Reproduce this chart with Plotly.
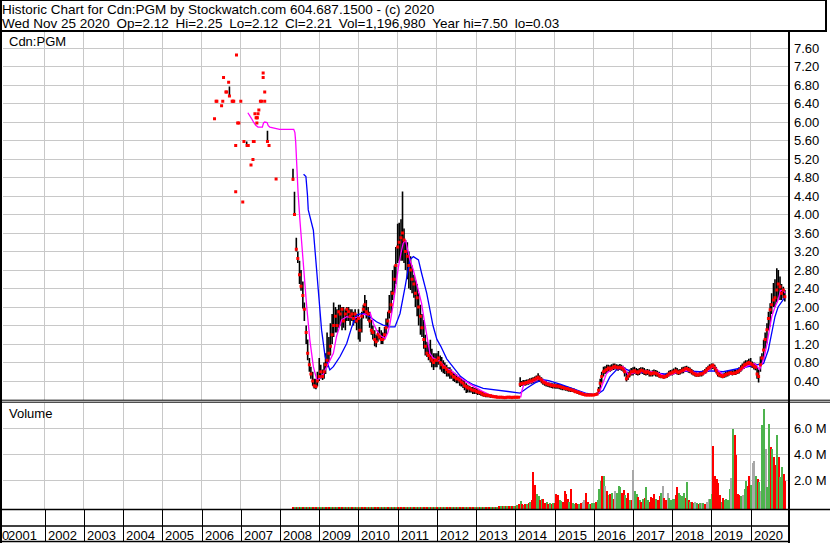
import pandas as pd
import plotly.graph_objects as go

W, H = 830, 543

# ---------------- text ----------------
TITLE_LINE_1 = "Historic Chart for Cdn:PGM by Stockwatch.com 604.687.1500 - (c) 2020"
TITLE_LINE_2 = "Wed Nov 25 2020  Op=2.12  Hi=2.25  Lo=2.12  Cl=2.21  Vol=1,196,980  Year hi=7.50  lo=0.03"
SYMBOL_LABEL = "Cdn:PGM"
VOLUME_LABEL = "Volume"

YEARS = [2001, 2002, 2003, 2004, 2005, 2006, 2007, 2008, 2009, 2010,
         2011, 2012, 2013, 2014, 2015, 2016, 2017, 2018, 2019, 2020]
PRICE_TICKS = [0.40, 0.80, 1.20, 1.60, 2.00, 2.40, 2.80, 3.20, 3.60, 4.00,
               4.40, 4.80, 5.20, 5.60, 6.00, 6.40, 6.80, 7.20, 7.60]
VOLUME_TICKS = [2.0, 4.0, 6.0]          # millions

# ---------------- sparse early trades (decimal year, close) ----------------
EARLY_X = [2006.33, 2006.37, 2006.39, 2006.51, 2006.54, 2006.56, 2006.62, 2006.64,
           2006.69, 2006.71, 2006.78, 2006.80, 2006.82, 2006.87, 2006.87, 2006.89,
           2006.92, 2006.95, 2007.00, 2007.05, 2007.08, 2007.16, 2007.19, 2007.26,
           2007.31, 2007.32, 2007.34, 2007.36, 2007.39, 2007.41, 2007.41, 2007.42,
           2007.44, 2007.46, 2007.50, 2007.53, 2007.57, 2007.57, 2007.61, 2007.61,
           2007.68, 2007.72, 2007.90]
EARLY_CLOSE = [6.07, 6.45, 6.45, 6.35, 6.45, 6.96, 6.65, 6.65,
               6.86, 6.56, 6.45, 6.45, 6.45, 5.49, 4.49, 7.45,
               5.98, 5.98, 6.45, 4.27, 5.58, 5.49, 5.49, 5.07,
               5.19, 5.58, 5.58, 6.18, 6.09, 5.98, 6.09, 6.09,
               6.18, 6.26, 6.45, 6.45, 7.06, 6.96, 6.65, 6.45,
               5.58, 5.49, 4.77]
EARLY_BAR_X = [2006.71, 2007.15, 2007.68]
EARLY_BAR_HIGH = [6.77, 5.58, 5.81]
EARLY_BAR_LOW = [6.56, 5.49, 5.58]

# ---------------- semi-monthly periods (1st & 15th), May 2008 - Nov 2020 ----------------
PERIOD_START = "2008-05-01"
PERIOD_END = "2020-11-15"

HIGH = [
    # 2008 (May-Dec)
    4.99, 4.49, 3.50, 3.20, 3.00, 2.80, 2.55, 2.10, 1.60, 1.30, 0.90, 0.71, 0.60, 0.45, 0.45, 0.60,
    # 2009
    0.90, 0.75, 0.65, 0.80, 1.00, 1.45, 1.35, 1.65, 1.85, 2.10, 2.00, 1.95, 2.05, 2.05, 2.00, 2.00, 1.95, 2.00, 2.00, 1.95, 1.95, 1.90, 1.95, 1.85,
    # 2010
    1.95, 1.75, 1.90, 2.05, 2.26, 2.15, 2.00, 1.90, 1.72, 1.60, 1.50, 1.40, 1.50, 1.57, 1.50, 1.45, 1.57, 1.75, 1.90, 2.26, 2.35, 2.80, 2.90, 3.30,
    # 2011
    3.80, 3.82, 3.90, 4.50, 3.70, 3.45, 3.40, 3.20, 3.10, 2.90, 2.70, 2.58, 2.50, 2.30, 2.05, 1.85, 1.72, 1.40, 1.25, 1.20, 1.29, 1.10, 1.00, 1.00,
    # 2012
    1.00, 1.05, 0.95, 0.92, 0.85, 0.80, 0.75, 0.70, 0.70, 0.65, 0.60, 0.58, 0.55, 0.50, 0.50, 0.45, 0.42, 0.40, 0.35, 0.32, 0.30, 0.27, 0.27, 0.25,
    # 2013
    0.25, 0.22, 0.20, 0.18, 0.16, 0.15, 0.13, 0.12, 0.11, 0.10, 0.10, 0.09, 0.08, 0.08, 0.07, 0.07, 0.06, 0.06, 0.06, 0.06, 0.06, 0.07, 0.06, 0.07,
    # 2014
    0.07, 0.07, 0.07, 0.48, 0.40, 0.42, 0.42, 0.43, 0.44, 0.46, 0.47, 0.48, 0.50, 0.52, 0.57, 0.52, 0.48, 0.45, 0.42, 0.40, 0.38, 0.37, 0.36, 0.35,
    # 2015
    0.35, 0.34, 0.34, 0.33, 0.32, 0.31, 0.30, 0.29, 0.28, 0.27, 0.26, 0.25, 0.24, 0.22, 0.20, 0.18, 0.17, 0.15, 0.14, 0.13, 0.12, 0.12, 0.12, 0.12,
    # 2016
    0.12, 0.13, 0.15, 0.27, 0.45, 0.60, 0.71, 0.72, 0.75, 0.75, 0.74, 0.76, 0.78, 0.78, 0.76, 0.75, 0.77, 0.75, 0.73, 0.70, 0.60, 0.60, 0.65, 0.68,
    # 2017
    0.70, 0.71, 0.68, 0.66, 0.68, 0.70, 0.70, 0.68, 0.65, 0.66, 0.65, 0.62, 0.63, 0.65, 0.64, 0.62, 0.60, 0.57, 0.56, 0.55, 0.56, 0.58, 0.62, 0.64,
    # 2018
    0.65, 0.67, 0.70, 0.68, 0.65, 0.66, 0.70, 0.71, 0.72, 0.73, 0.71, 0.69, 0.66, 0.63, 0.60, 0.59, 0.58, 0.60, 0.61, 0.63, 0.66, 0.70, 0.73, 0.76,
    # 2019
    0.78, 0.78, 0.75, 0.70, 0.63, 0.60, 0.58, 0.56, 0.58, 0.60, 0.62, 0.64, 0.64, 0.63, 0.64, 0.64, 0.66, 0.70, 0.74, 0.78, 0.82, 0.85, 0.85, 0.88,
    # 2020 (Jan - mid Nov)
    0.90, 0.82, 0.80, 0.78, 0.71, 0.65, 0.93, 1.00, 1.29, 1.45, 1.65, 1.90, 2.08, 2.30, 2.52, 2.60, 2.84, 2.80, 2.66, 2.50, 2.44, 2.37,
]
LOW = [
    # 2008
    4.73, 3.99, 3.20, 2.95, 2.50, 2.35, 1.97, 1.70, 1.20, 0.85, 0.60, 0.45, 0.30, 0.24, 0.22, 0.28,
    # 2009
    0.40, 0.45, 0.42, 0.45, 0.55, 0.70, 0.80, 0.95, 1.20, 1.35, 1.45, 1.45, 1.55, 1.60, 1.50, 1.55, 1.50, 1.70, 1.70, 1.60, 1.70, 1.60, 1.65, 1.50,
    # 2010
    1.30, 1.25, 1.45, 1.75, 1.85, 1.75, 1.70, 1.55, 1.40, 1.30, 1.15, 1.13, 1.25, 1.30, 1.20, 1.20, 1.30, 1.40, 1.55, 1.75, 1.87, 2.15, 2.30, 2.50,
    # 2011
    2.95, 3.00, 3.00, 3.00, 2.95, 2.80, 2.60, 2.40, 2.37, 2.30, 2.20, 2.00, 1.80, 1.60, 1.40, 1.35, 1.10, 0.95, 0.92, 0.85, 0.80, 0.70, 0.64, 0.70,
    # 2012
    0.70, 0.75, 0.65, 0.60, 0.57, 0.55, 0.50, 0.50, 0.45, 0.45, 0.40, 0.38, 0.35, 0.35, 0.30, 0.28, 0.25, 0.20, 0.14, 0.15, 0.15, 0.15, 0.12, 0.12,
    # 2013
    0.12, 0.10, 0.10, 0.08, 0.07, 0.06, 0.05, 0.05, 0.05, 0.04, 0.04, 0.03, 0.03, 0.03, 0.03, 0.03, 0.03, 0.03, 0.03, 0.03, 0.03, 0.03, 0.03, 0.03,
    # 2014
    0.03, 0.03, 0.03, 0.27, 0.29, 0.30, 0.30, 0.31, 0.32, 0.33, 0.34, 0.35, 0.37, 0.39, 0.40, 0.38, 0.35, 0.32, 0.30, 0.28, 0.27, 0.26, 0.25, 0.24,
    # 2015
    0.24, 0.23, 0.23, 0.22, 0.21, 0.20, 0.20, 0.19, 0.18, 0.17, 0.16, 0.16, 0.15, 0.14, 0.12, 0.11, 0.10, 0.09, 0.08, 0.08, 0.08, 0.08, 0.08, 0.08,
    # 2016
    0.08, 0.08, 0.09, 0.12, 0.20, 0.35, 0.50, 0.55, 0.57, 0.60, 0.60, 0.62, 0.64, 0.65, 0.64, 0.62, 0.64, 0.62, 0.60, 0.50, 0.39, 0.42, 0.48, 0.52,
    # 2017
    0.52, 0.55, 0.53, 0.52, 0.53, 0.56, 0.55, 0.53, 0.52, 0.53, 0.50, 0.50, 0.50, 0.52, 0.50, 0.49, 0.47, 0.46, 0.46, 0.45, 0.46, 0.47, 0.50, 0.52,
    # 2018
    0.52, 0.54, 0.55, 0.54, 0.53, 0.54, 0.56, 0.57, 0.60, 0.60, 0.58, 0.57, 0.54, 0.52, 0.50, 0.49, 0.49, 0.50, 0.50, 0.52, 0.55, 0.57, 0.60, 0.63,
    # 2019
    0.65, 0.66, 0.60, 0.56, 0.50, 0.48, 0.47, 0.46, 0.47, 0.48, 0.50, 0.52, 0.53, 0.52, 0.53, 0.53, 0.55, 0.56, 0.60, 0.63, 0.66, 0.70, 0.72, 0.72,
    # 2020
    0.70, 0.68, 0.65, 0.63, 0.45, 0.37, 0.60, 0.75, 0.85, 1.10, 1.21, 1.50, 1.58, 1.85, 2.00, 2.00, 2.10, 2.20, 2.15, 2.15, 2.19, 2.12,
]
CLOSE = [
    # 2008
    4.76, 4.00, 3.25, 3.05, 2.70, 2.45, 2.25, 1.95, 1.45, 1.00, 0.75, 0.55, 0.40, 0.30, 0.28, 0.40,
    # 2009
    0.50, 0.60, 0.50, 0.60, 0.75, 0.85, 1.00, 1.15, 1.40, 1.60, 1.80, 1.60, 1.90, 1.85, 1.95, 1.70, 1.85, 1.95, 1.90, 1.80, 1.85, 1.75, 1.85, 1.70,
    # 2010
    1.75, 1.50, 1.80, 1.95, 2.05, 1.90, 1.85, 1.70, 1.50, 1.45, 1.30, 1.25, 1.40, 1.35, 1.30, 1.30, 1.40, 1.55, 1.70, 1.90, 2.05, 2.30, 2.60, 2.90,
    # 2011
    3.30, 3.40, 3.50, 3.60, 3.45, 3.20, 3.10, 2.90, 2.80, 2.60, 2.50, 2.30, 2.20, 2.00, 1.80, 1.55, 1.30, 1.15, 1.00, 0.95, 0.90, 0.85, 0.80, 0.85,
    # 2012
    0.85, 0.90, 0.80, 0.75, 0.70, 0.70, 0.65, 0.60, 0.60, 0.55, 0.50, 0.48, 0.45, 0.45, 0.42, 0.38, 0.35, 0.30, 0.28, 0.25, 0.25, 0.22, 0.20, 0.20,
    # 2013
    0.18, 0.16, 0.15, 0.14, 0.12, 0.10, 0.10, 0.09, 0.08, 0.08, 0.07, 0.06, 0.06, 0.05, 0.05, 0.05, 0.05, 0.04, 0.04, 0.05, 0.05, 0.05, 0.04, 0.05,
    # 2014
    0.05, 0.05, 0.05, 0.33, 0.34, 0.35, 0.35, 0.37, 0.38, 0.40, 0.40, 0.42, 0.44, 0.46, 0.48, 0.45, 0.42, 0.38, 0.36, 0.34, 0.33, 0.32, 0.31, 0.30,
    # 2015
    0.30, 0.29, 0.29, 0.28, 0.27, 0.26, 0.25, 0.24, 0.23, 0.22, 0.21, 0.20, 0.19, 0.17, 0.16, 0.15, 0.13, 0.12, 0.11, 0.10, 0.10, 0.10, 0.10, 0.10,
    # 2016
    0.10, 0.11, 0.12, 0.20, 0.35, 0.50, 0.60, 0.62, 0.65, 0.68, 0.66, 0.68, 0.70, 0.72, 0.70, 0.68, 0.70, 0.68, 0.66, 0.60, 0.45, 0.50, 0.55, 0.60,
    # 2017
    0.60, 0.62, 0.60, 0.58, 0.60, 0.63, 0.62, 0.60, 0.58, 0.60, 0.58, 0.55, 0.56, 0.58, 0.57, 0.55, 0.52, 0.50, 0.50, 0.48, 0.50, 0.52, 0.55, 0.57,
    # 2018
    0.58, 0.60, 0.62, 0.60, 0.58, 0.60, 0.62, 0.64, 0.66, 0.67, 0.65, 0.63, 0.60, 0.57, 0.55, 0.53, 0.53, 0.55, 0.55, 0.57, 0.60, 0.63, 0.67, 0.70,
    # 2019
    0.72, 0.74, 0.68, 0.62, 0.56, 0.53, 0.52, 0.50, 0.52, 0.54, 0.55, 0.57, 0.58, 0.56, 0.57, 0.58, 0.60, 0.62, 0.66, 0.70, 0.74, 0.76, 0.78, 0.80,
    # 2020
    0.78, 0.75, 0.72, 0.70, 0.55, 0.50, 0.75, 0.90, 1.07, 1.30, 1.51, 1.75, 1.94, 2.05, 2.15, 2.20, 2.37, 2.50, 2.44, 2.30, 2.37, 2.22,
]
VOLUME = [  # millions of shares
    # 2008
    0.00, 0.00, 0.00, 0.00, 0.00, 0.00, 0.00, 0.00, 0.00, 0.00, 0.00, 0.00, 0.00, 0.00, 0.00, 0.00,
    # 2009
    0.00, 0.00, 0.00, 0.00, 0.00, 0.00, 0.00, 0.00, 0.00, 0.00, 0.00, 0.00, 0.00, 0.00, 0.00, 0.00, 0.00, 0.00, 0.00, 0.00, 0.00, 0.00, 0.00, 0.00,
    # 2010
    0.00, 0.00, 0.00, 0.00, 0.00, 0.00, 0.00, 0.00, 0.00, 0.00, 0.00, 0.00, 0.00, 0.00, 0.00, 0.00, 0.00, 0.00, 0.00, 0.00, 0.00, 0.00, 0.00, 0.00,
    # 2011
    0.00, 0.00, 0.00, 0.00, 0.00, 0.00, 0.00, 0.00, 0.00, 0.00, 0.00, 0.00, 0.00, 0.00, 0.00, 0.00, 0.00, 0.00, 0.00, 0.00, 0.00, 0.00, 0.00, 0.00,
    # 2012
    0.00, 0.00, 0.00, 0.00, 0.00, 0.00, 0.00, 0.00, 0.00, 0.00, 0.00, 0.00, 0.00, 0.00, 0.00, 0.00, 0.00, 0.00, 0.00, 0.00, 0.00, 0.00, 0.00, 0.00,
    # 2013
    0.00, 0.00, 0.00, 0.00, 0.00, 0.00, 0.00, 0.00, 0.00, 0.00, 0.00, 0.00, 0.00, 0.00, 0.03, 0.05, 0.04, 0.06, 0.05, 0.04, 0.06, 0.05, 0.07, 0.05,
    # 2014
    0.10, 0.15, 0.20, 0.45, 0.20, 0.15, 0.20, 0.25, 0.30, 0.40, 0.50, 2.70, 1.70, 1.00, 0.80, 0.50, 0.60, 0.60, 0.30, 0.40, 0.25, 0.30, 0.20, 0.30,
    # 2015
    0.30, 0.95, 0.90, 0.50, 0.45, 0.40, 1.20, 1.00, 0.60, 0.40, 1.40, 0.30, 0.25, 0.30, 0.20, 0.25, 0.30, 0.35, 0.55, 1.10, 0.40, 0.25, 0.20, 0.30,
    # 2016
    0.30, 0.40, 0.50, 1.40, 1.95, 2.40, 2.35, 1.60, 1.20, 0.90, 1.00, 1.10, 0.60, 1.20, 1.10, 1.60, 1.50, 1.10, 1.30, 0.90, 0.70, 1.10, 0.50, 0.50,
    # 2017
    2.80, 1.20, 1.00, 0.75, 0.50, 0.40, 0.60, 0.70, 1.50, 0.50, 0.40, 0.75, 0.70, 1.00, 0.60, 0.50, 0.85, 1.10, 1.60, 0.70, 0.50, 1.05, 0.70, 0.50,
    # 2018
    0.60, 0.60, 0.90, 1.55, 1.05, 0.90, 0.80, 1.10, 0.70, 1.90, 0.50, 0.40, 0.35, 0.30, 0.35, 0.30, 0.25, 0.30, 0.30, 0.30, 0.25, 0.35, 0.60, 0.60,
    # 2019
    1.00, 4.70, 2.40, 2.15, 1.80, 0.90, 0.40, 0.70, 0.50, 0.60, 0.50, 1.40, 2.20, 6.00, 5.50, 3.95, 1.00, 0.90, 0.80, 0.90, 1.40, 1.95, 1.60, 2.40,
    # 2020
    1.70, 3.40, 3.50, 2.40, 2.15, 1.90, 1.20, 6.30, 7.50, 4.45, 1.50, 6.40, 4.60, 4.45, 3.80, 3.20, 5.55, 3.80, 2.30, 3.05, 2.55, 1.95,
]
# u = up (green), d = down (red), f = unchanged (grey); one letter per period
VOLUME_TREND = (
    "dudududududududu"                              # 2008
    + "dudududududududududududu"                    # 2009
    + "dudududududududududududu"                    # 2010
    + "dudududududududududududu"                    # 2011
    + "dudududududududududududu"                    # 2012
    + "dudududududududududududu"                    # 2013
    + "dudududu" + "duddduud" + "uddududu"          # 2014
    + "ddduuddd" + "duduuddu" + "dffddudu"          # 2015
    + "uduuuduf" + "dududfuu" + "udduddud"          # 2016
    + "fuududud" + "uuddddud" + "dufddfuu"          # 2017
    + "uudduuuu" + "dududufu" + "dufudffu"          # 2018
    + "udddddud" + "uuuufudd" + "ddufuudd"          # 2019
    + "uffudufu" + "ufuududd" + "uduudd"            # 2020
)

# ---------------- moving averages ----------------
MA_FAST_X = [2007.18, 2007.21, 2007.27, 2007.33, 2007.38, 2007.44, 2007.55, 2007.58, 2007.61, 2007.67,
             2007.70, 2007.74, 2007.84, 2007.99, 2008.35, 2008.38, 2008.40, 2008.42, 2008.44, 2008.46,
             2008.51, 2008.59, 2008.68, 2008.76, 2008.85, 2008.94, 2009.02, 2009.10, 2009.19, 2009.28,
             2009.36, 2009.44, 2009.50, 2009.57, 2009.70, 2009.87, 2010.04, 2010.15, 2010.25, 2010.30,
             2010.38, 2010.46, 2010.55, 2010.68, 2010.75, 2010.80, 2010.89, 2010.95, 2011.02, 2011.08,
             2011.14, 2011.20, 2011.25, 2011.31, 2011.40, 2011.49, 2011.61, 2011.68, 2011.74, 2011.82,
             2011.90, 2012.00, 2012.08, 2012.25, 2012.33, 2012.59, 2012.75, 2012.93, 2013.15, 2013.35,
             2013.55, 2013.78, 2013.97, 2014.14, 2014.17, 2014.22, 2014.37, 2014.50, 2014.63, 2014.80,
             2014.95, 2015.14, 2015.48, 2015.82, 2016.07, 2016.14, 2016.20, 2016.27, 2016.33, 2016.50,
             2016.75, 2016.82, 2016.88, 2017.00, 2017.34, 2017.60, 2017.86, 2018.10, 2018.37, 2018.62,
             2018.80, 2019.05, 2019.15, 2019.30, 2019.64, 2019.90, 2020.10, 2020.18, 2020.23, 2020.30,
             2020.37, 2020.45, 2020.54, 2020.62, 2020.70, 2020.76, 2020.83, 2020.88]
MA_FAST_Y = [6.20, 6.15, 6.08, 5.99, 5.93, 5.89, 5.89, 5.98, 6.00, 5.99,
             5.92, 5.89, 5.87, 5.84, 5.84, 5.77, 5.56, 5.16, 4.75, 4.48,
             3.85, 2.94, 2.01, 1.29, 0.71, 0.42, 0.46, 0.55, 0.71, 0.85,
             1.00, 1.36, 1.55, 1.72, 1.79, 1.76, 1.79, 1.85, 1.83, 1.87,
             1.65, 1.50, 1.39, 1.32, 1.45, 1.62, 2.08, 2.50, 2.87, 3.15,
             3.38, 3.45, 3.25, 3.02, 2.80, 2.51, 2.08, 1.70, 1.36, 1.00,
             0.90, 0.85, 0.82, 0.67, 0.64, 0.47, 0.38, 0.29, 0.18, 0.10,
             0.06, 0.05, 0.06, 0.06, 0.20, 0.33, 0.36, 0.40, 0.46, 0.37,
             0.32, 0.29, 0.21, 0.11, 0.10, 0.15, 0.28, 0.45, 0.57, 0.68,
             0.71, 0.62, 0.53, 0.57, 0.62, 0.58, 0.50, 0.58, 0.63, 0.57,
             0.55, 0.72, 0.65, 0.53, 0.57, 0.72, 0.78, 0.70, 0.65, 0.80,
             1.00, 1.37, 1.80, 2.00, 2.15, 2.35, 2.37, 2.30]

MA_SLOW_X = [2008.60, 2008.66, 2008.70, 2008.72, 2008.85, 2008.94, 2009.00, 2009.06, 2009.15, 2009.27,
             2009.36, 2009.53, 2009.70, 2009.83, 2009.95, 2010.12, 2010.29, 2010.46, 2010.63, 2010.80,
             2010.93, 2011.06, 2011.19, 2011.31, 2011.40, 2011.53, 2011.61, 2011.74, 2011.82, 2011.90,
             2012.00, 2012.10, 2012.25, 2012.42, 2012.60, 2012.76, 2012.93, 2013.18, 2013.60, 2013.90,
             2014.12, 2014.30, 2014.50, 2014.70, 2014.85, 2015.14, 2015.48, 2015.82, 2016.07, 2016.24,
             2016.41, 2016.58, 2016.75, 2016.92, 2017.17, 2017.50, 2017.86, 2018.37, 2018.70, 2019.00,
             2019.30, 2019.90, 2020.15, 2020.33, 2020.45, 2020.54, 2020.62, 2020.70, 2020.83, 2020.88]
MA_SLOW_Y = [4.87, 4.82, 4.42, 4.10, 3.66, 2.80, 2.08, 1.50, 0.93, 0.64,
             0.71, 0.93, 1.21, 1.57, 1.83, 1.86, 1.79, 1.68, 1.61, 1.57,
             1.57, 1.86, 2.44, 3.02, 3.09, 3.02, 2.73, 2.30, 1.95, 1.60,
             1.30, 1.15, 0.88, 0.70, 0.50, 0.40, 0.32, 0.24, 0.19, 0.15,
             0.14, 0.25, 0.36, 0.43, 0.41, 0.33, 0.23, 0.13, 0.10, 0.20,
             0.49, 0.64, 0.68, 0.62, 0.58, 0.58, 0.55, 0.62, 0.60, 0.62,
             0.60, 0.70, 0.75, 0.78, 1.07, 1.44, 1.79, 2.00, 2.15, 2.22]

# ---------------- geometry (pixels) ----------------
X2002_PX, PX_PER_YEAR = 44.7, 39.22
PLOT_LEFT_PX, PLOT_RIGHT_PX = 2.5, 788.0
PRICE_TOP_PX, PRICE_ZERO_PX, PX_PER_DOLLAR = 32.0, 399.5, 46.25
VOL_TOP_PX, VOL_BOTTOM_PX, VOL_ZERO_PX, PX_PER_MILLION = 402.5, 509.0, 506.3, 13.0
VOL_BAR_BASE = -0.15

FONT = "Liberation Sans, Arial, sans-serif"
GRID = "#c8c8c8"
RED, GREEN, GREY = "#ff0000", "#4db34d", "#a8a8a8"


def px_x(x):
    return x / W


def px_y(y):
    return 1 - y / H


def decimal_year(d):
    start = pd.Timestamp(year=d.year, month=1, day=1)
    end = pd.Timestamp(year=d.year + 1, month=1, day=1)
    return d.year + (d - start) / (end - start)


dates = pd.date_range(PERIOD_START, PERIOD_END, freq="SMS")
period_x = [decimal_year(d) for d in dates]
n = len(period_x)
assert len(HIGH) == n and len(LOW) == n and len(CLOSE) == n and len(VOLUME) == n, \
    (n, len(HIGH), len(LOW), len(CLOSE), len(VOLUME))
assert len(VOLUME_TREND) == n, (n, len(VOLUME_TREND))

x_left = 2002 - (X2002_PX - PLOT_LEFT_PX) / PX_PER_YEAR
x_right = 2002 + (PLOT_RIGHT_PX - X2002_PX) / PX_PER_YEAR

# high-low bars as one segmented line
bar_x, bar_y = [], []
for x, hi, lo in list(zip(EARLY_BAR_X, EARLY_BAR_HIGH, EARLY_BAR_LOW)) + list(zip(period_x, HIGH, LOW)):
    bar_x += [x, x, None]
    bar_y += [lo, hi, None]

fig = go.Figure()
fig.add_trace(go.Scatter(x=bar_x, y=bar_y, mode="lines", line=dict(color="black", width=1.6),
                         hoverinfo="skip", showlegend=False))
fig.add_trace(go.Scatter(x=MA_SLOW_X, y=MA_SLOW_Y, mode="lines", line=dict(color="#0000ff", width=1.3),
                         showlegend=False))
fig.add_trace(go.Scatter(x=MA_FAST_X, y=MA_FAST_Y, mode="lines", line=dict(color="#ff00ff", width=1.3),
                         showlegend=False))
fig.add_trace(go.Scatter(x=EARLY_X + period_x, y=EARLY_CLOSE + CLOSE, mode="markers",
                         marker=dict(symbol="square", size=3, color=RED, line=dict(width=0)),
                         showlegend=False))

colour_of = {"u": GREEN, "d": RED, "f": GREY}
fig.add_trace(go.Bar(x=period_x, y=[v - VOL_BAR_BASE for v in VOLUME], base=VOL_BAR_BASE,
                     width=0.03, marker=dict(color=[colour_of[c] for c in VOLUME_TREND], line=dict(width=0)),
                     xaxis="x2", yaxis="y2", showlegend=False))

price_top = (PRICE_ZERO_PX - PRICE_TOP_PX) / PX_PER_DOLLAR
vol_min = (VOL_ZERO_PX - VOL_BOTTOM_PX) / PX_PER_MILLION
vol_max = (VOL_ZERO_PX - VOL_TOP_PX) / PX_PER_MILLION

common_x = dict(range=[x_left, x_right], domain=[px_x(PLOT_LEFT_PX), px_x(PLOT_RIGHT_PX)],
                tickmode="array", tickvals=YEARS[1:], showticklabels=False, ticks="",
                showgrid=True, gridcolor=GRID, gridwidth=1, zeroline=False, showline=False)

fig.update_layout(
    width=W, height=H, margin=dict(l=0, r=0, t=0, b=0, pad=0),
    paper_bgcolor="white", plot_bgcolor="white", bargap=0,
    font=dict(family=FONT, size=13, color="black"),
    xaxis=dict(anchor="y", **common_x),
    xaxis2=dict(anchor="y2", **common_x),
    yaxis=dict(domain=[px_y(PRICE_ZERO_PX), px_y(PRICE_TOP_PX)], range=[0, price_top],
               side="right", tickmode="array", tickvals=PRICE_TICKS,
               ticktext=[f"{v:.2f}" for v in PRICE_TICKS], ticks="", ticklabelstandoff=5,
               tickfont=dict(family=FONT, size=13, color="black"),
               showgrid=True, gridcolor=GRID, gridwidth=1, zeroline=False, showline=False),
    yaxis2=dict(domain=[px_y(VOL_BOTTOM_PX), px_y(VOL_TOP_PX)], range=[vol_min, vol_max],
                side="right", tickmode="array", tickvals=VOLUME_TICKS,
                ticktext=[f"{v:.1f} M" for v in VOLUME_TICKS], ticks="", ticklabelstandoff=5,
                tickfont=dict(family=FONT, size=13, color="black"),
                showgrid=True, gridcolor=GRID, gridwidth=1, zeroline=False, showline=False),
)


def spaced(s):
    # keep the wide double gaps between fields visible in SVG text
    return s.replace("  ", "\u2002")


annotations = [
    dict(text=spaced(TITLE_LINE_1), x=px_x(2), y=px_y(9.5), size=13.5),
    dict(text=spaced(TITLE_LINE_2), x=px_x(2), y=px_y(23.5), size=13.5),
    dict(text=SYMBOL_LABEL, x=px_x(9), y=px_y(41.5), size=13),
    dict(text=VOLUME_LABEL, x=px_x(9), y=px_y(413.5), size=13),
    dict(text="0", x=px_x(1.5), y=px_y(535), size=13),
]
for a in annotations:
    fs = a.pop("size")
    a.update(xref="paper", yref="paper", xanchor="left", yanchor="middle", showarrow=False,
             borderpad=0, borderwidth=0, font=dict(family=FONT, size=fs, color="black"))

for yr in YEARS:
    ypx = X2002_PX + (yr - 2002) * PX_PER_YEAR
    lx = max(ypx + 3, 4.5)
    annotations.append(dict(text=str(yr), x=px_x(lx), y=px_y(535), xref="paper", yref="paper",
                            xanchor="left", yanchor="middle", showarrow=False, borderpad=0,
                            borderwidth=0, font=dict(family=FONT, size=13, color="black")))
fig.update_layout(annotations=annotations)


def hline(y, x0, x1, w=1):
    return dict(type="line", xref="paper", yref="paper", x0=px_x(x0), x1=px_x(x1),
                y0=px_y(y), y1=px_y(y), line=dict(color="black", width=w))


def vline(x, y0, y1, w=1):
    return dict(type="line", xref="paper", yref="paper", x0=px_x(x), x1=px_x(x),
                y0=px_y(y0), y1=px_y(y1), line=dict(color="black", width=w))


shapes = [
    hline(0.5, 0, 827, 1),          # top border
    vline(826, 0, 31, 2),           # header right border
    hline(31, 0, 827, 2),           # header bottom
    vline(1, 0, H, 2),              # left border
    vline(789, 31, H, 2),           # right axis line
    hline(400.2, 0, W, 1),          # price / volume separator (double)
    hline(402.2, 0, W, 1),
    hline(509.5, 0, W, 1.5),        # volume bottom
    hline(526, 0, 789, 1.5),        # tick row bottom
    hline(541.5, 0, 789, 1.5),      # bottom border
]
for yr in YEARS[1:]:
    xpx = round(X2002_PX + (yr - 2002) * PX_PER_YEAR) + 0.5
    shapes.append(vline(xpx, 509.5, 542, 1))
fig.update_layout(shapes=shapes)

fig.write_html("out.html", config={"displayModeBar": False},
               post_script="document.body.style.margin='0';document.body.style.padding='0';"
                           "document.documentElement.style.overflow='hidden';")
